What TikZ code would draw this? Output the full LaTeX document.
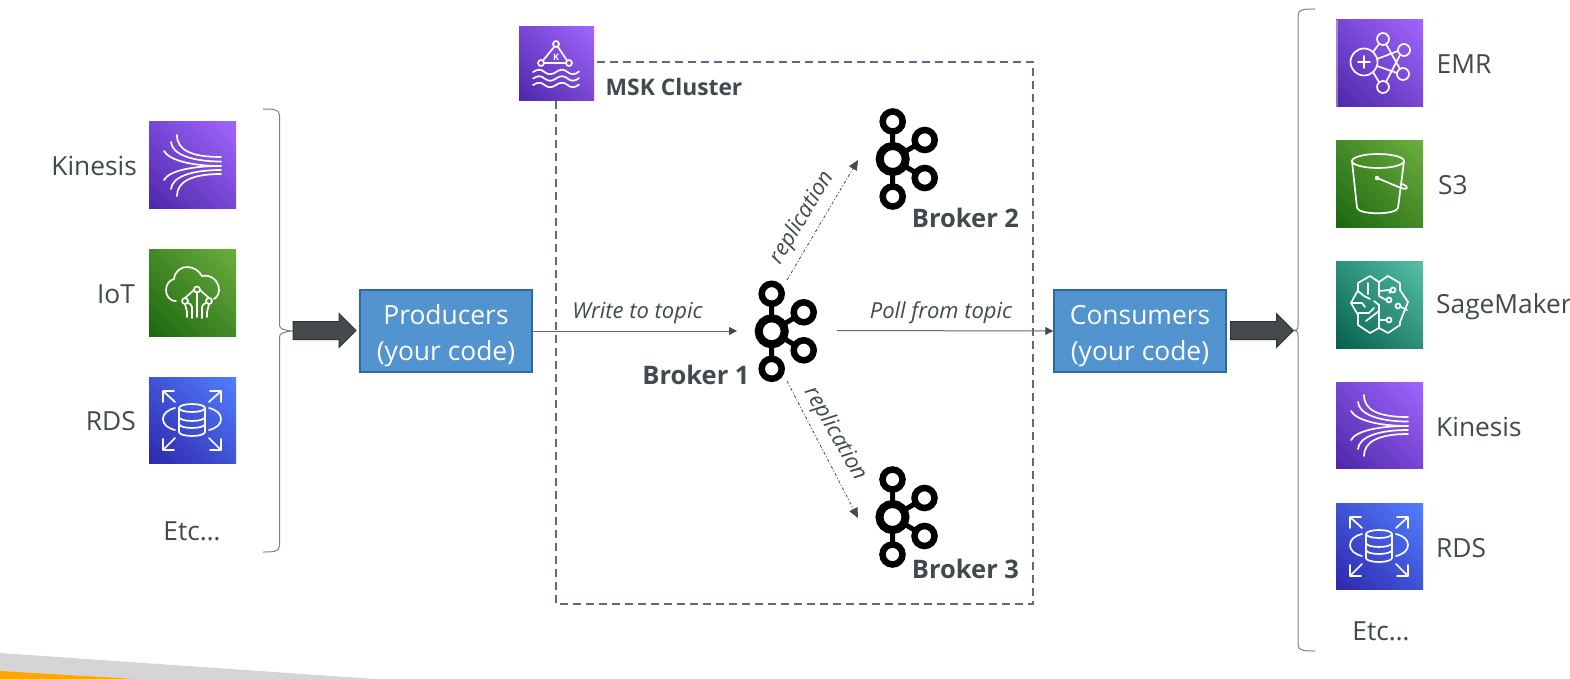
\documentclass[tikz,border=0pt]{standalone}
\usepackage{fontspec}
\setmainfont{Open Sans}
\usetikzlibrary{arrows.meta,shapes.arrows,shadings}
\definecolor{purpD}{HTML}{4D27A8}\definecolor{purpL}{HTML}{A166FF}
\definecolor{greenD}{HTML}{1B660F}\definecolor{greenL}{HTML}{6CAE3E}
\definecolor{blueD}{HTML}{2E27AD}\definecolor{blueL}{HTML}{527FFF}
\definecolor{tealD}{HTML}{055F4E}\definecolor{tealL}{HTML}{56C0A7}
\definecolor{txt}{HTML}{414A4C}
\definecolor{boxfill}{HTML}{5194D0}\definecolor{boxline}{HTML}{2F6A9F}
\definecolor{dashc}{HTML}{5A6B86}
\definecolor{arrowc}{HTML}{444B4C}\definecolor{arrowl}{HTML}{2E3435}
\newcommand{\iconbg}[4]{\shade[lower left=#1,upper right=#2,upper left=#1!50!#2,lower right=#1!50!#2] (0,0) rectangle (#3,#4);}
\newcommand{\sz}[1]{\fontsize{#1}{#1}\selectfont}
\tikzset{
 ic/.style={draw=white,line width=1.7pt,line cap=round,line join=round},
 lab/.style={text=txt,font=\sz{26.3}},
 boldlab/.style={text=txt,font=\sz{25.5}\bfseries},
 ital/.style={text=txt,font=\sz{22}\itshape},
 codebox/.style={draw=boxline,line width=1.5pt,fill=boxfill,text=white,minimum width=172pt,minimum height=82pt,align=center,inner sep=0pt,font=\fontsize{26.4}{36}\selectfont},
 flow/.style={draw=gray!80!black,line width=1pt,-{Triangle[length=8pt,width=8pt,color=arrowc]}},
 repl/.style={draw=arrowc,line width=.8pt,dash pattern=on 3pt off 2pt on 1pt off 2pt,-{Triangle[length=10pt,width=9pt,color=arrowc,sep=0pt]}},
 bigarrow/.style={single arrow,draw=arrowl,fill=arrowc,line width=1pt,minimum height=63pt,inner xsep=0pt,inner ysep=8.5pt,single arrow head extend=8pt,single arrow tip angle=90},
 brace/.style={draw=gray,line width=1pt},
 kinesisicon/.pic={
  \iconbg{purpD}{purpL}{87}{86}
  \draw[ic] (28,13) .. controls (28,28) and (42,35) .. (72,35);
  \draw[ic] (22,20) .. controls (23,32) and (42,39.5) .. (72,39.5);
  \draw[ic] (15,29) .. controls (20,38) and (42,44) .. (72,44);
  \draw[ic] (15,58) .. controls (20,49) and (42,44) .. (72,44);
  \draw[ic] (22,67) .. controls (23,55) and (42,48) .. (72,48);
  \draw[ic] (28,74) .. controls (28,60) and (42,52) .. (72,52);
 },
 rdsicon/.pic={
  \iconbg{blueD}{blueL}{87}{86}
  \draw[ic] (30,31) arc[x radius=13,y radius=4,start angle=180,end angle=-180];
  \draw[ic] (30,31) -- (30,55) arc[x radius=13,y radius=-4,start angle=180,end angle=360] -- (56,31);
  \draw[ic] (30,40) arc[x radius=13,y radius=-4,start angle=180,end angle=360];
  \draw[ic] (30,47) arc[x radius=13,y radius=-4,start angle=180,end angle=360];
  \draw[ic] (26,31) .. controls (18,33) and (14,37) .. (14,42) .. controls (14,47) and (18,51) .. (26,53);
  \draw[ic] (60,31) .. controls (68,33) and (72,37) .. (72,42) .. controls (72,47) and (68,51) .. (60,53);
  \draw[ic] (26,25) -- (14,14) (14,25) -- (14,14) -- (25,14);
  \draw[ic] (60,25) -- (72,14) (72,25) -- (72,14) -- (61,14);
  \draw[ic] (26,61) -- (14,73) (14,62) -- (14,73) -- (25,73);
  \draw[ic] (60,61) -- (72,73) (72,62) -- (72,73) -- (61,73);
 },
 ioticon/.pic={
  \iconbg{greenD}{greenL}{87}{87}
  \draw[ic] (27,52) .. controls (20,52) and (17,46) .. (17,41) .. controls (17,35) and (21,31) .. (25,30) .. controls (26,22) and (32,18) .. (38,18) .. controls (45,18) and (50,22) .. (53,27) .. controls (62,25) and (70,32) .. (70,41) .. controls (70,45) and (68,48) .. (65,50);
  \draw[ic] (48,40.5) circle[radius=3pt] (36,52) circle[radius=3pt] (60,52) circle[radius=3pt];
  \draw[ic] (48,44) -- (48,68) (43,69) -- (43,58) .. controls (43,55) and (40,55) .. (39,54);
  \draw[ic] (53,69) -- (53,58) .. controls (53,55) and (56,55) .. (57,54);
  \draw[ic] (38,68) -- (38,63) -- (36,55) (58,68) -- (58,63) -- (60,55);
  \draw[ic] (36,49) -- (45,41) (60,49) -- (51,41);
 },
 emricon/.pic={
  \iconbg{purpD}{purpL}{87}{87}
  \fill[white,opacity=.35] (0,0) rectangle (2,87);
  \draw[ic] (28,42) circle[radius=13.5pt];
  \draw[ic] (22,42) -- (34,42) (28,36) -- (28,48);
  \draw[ic] (47,19) circle[radius=6pt] (68,30) circle[radius=6pt] (67,54) circle[radius=6pt] (47,67) circle[radius=6pt];
  \draw[ic] (37,32) -- (43,24) (41,39) -- (62,31) (41,46) -- (61,53) (37,52) -- (43,62) (50,24) -- (64,49) (50,62) -- (64,35);
 },
 sthreeicon/.pic={
  \iconbg{greenD}{greenL}{87}{86}
  \draw[ic] (42,20) ellipse[x radius=26,y radius=7];
  \draw[ic] (16,20) -- (21,67) .. controls (23,74) and (60,74) .. (62,67) -- (68,20);
  \draw[ic] (41,37) -- (65,47) .. controls (71,49) and (72,47) .. (70,45) .. controls (68,43) and (66,43) .. (64.5,43);
  \fill[white] (41,37) circle[radius=2.2pt];
 },
 sageicon/.pic={
  \iconbg{tealD}{tealL}{87}{87}
  \draw[ic] (34,15) -- (43,21) -- (52,15) -- (64,22) -- (64,29) -- (72,41) -- (64,61) -- (64,64) -- (52,72) -- (43,67) -- (34,72) -- (22,64) -- (22,54) -- (15,42) -- (22,29) -- (22,22) -- cycle;
  \draw[ic] (43,21) -- (43,34) (43,48) -- (43,67);
  \draw[ic] (43,30) -- (53,29) (53,29) -- (54,32);
  \draw[ic] (57,29) circle[radius=2.5pt] (53,39) circle[radius=2.5pt] (62,45) circle[radius=2.5pt] (53,59) circle[radius=2.5pt];
  \draw[ic] (43,35) -- (50,39) (65,46) -- (71,49) (43,59) -- (50,59);
  \draw[ic] (32,22) -- (32,33) (22,30) -- (28,35) -- (34,38);
  \draw[ic] (15,42) -- (26,42) -- (29,46) (22,52) -- (33,52) -- (38,47);
  \draw[ic] (38,40) -- (43,44) -- (43,50) -- (30,60);
 },
 mskicon/.pic={
  \iconbg{purpD}{purpL}{75}{74}
  \draw[ic] (37,17) circle[radius=3pt] (22,36) circle[radius=3pt] (50,36) circle[radius=3pt];
  \draw[ic] (35,20) -- (24,33.5) (39,20) -- (48,33.5) (25,36) -- (47,36);
  \node[text=white,font=\sz{9}\bfseries,inner sep=0pt] at (37,30.5) {K};
  \foreach \yy in {45,51.5,58}{\draw[ic] (14,\yy) .. controls (19,\yy-3) and (22,\yy-3) .. (25.5,\yy) .. controls (29,\yy+3) and (33,\yy+3) .. (37,\yy) .. controls (41,\yy-3) and (45,\yy-3) .. (48.5,\yy) .. controls (52,\yy+3) and (56,\yy+3) .. (60,\yy-.5);}
 },
 kafkaicon/.pic={
  \draw[black,line width=5pt] (0,0) -- (0,-37.5) (0,0) -- (0,37.5) (0,0) -- (32,-19) (0,0) -- (32,19);
  \draw[black,fill=white,line width=8pt] (0,0) circle[radius=13pt];
  \foreach \a/\b in {0/-37.5,0/37.5,32/-19,32/19}{\draw[black,fill=white,line width=6.5pt] (\a,\b) circle[radius=10pt];}
 },
}
\begin{document}
\begin{tikzpicture}[x=1pt,y=-1pt]
\useasboundingbox (0,0) rectangle (1570,679);
\fill[white] (0,0) rectangle (1570,679);
\fill[gray!33] (0,653) -- (375,679) -- (0,679) -- cycle;
\fill[orange!70!yellow] (0,671) -- (135,679) -- (0,679) -- cycle;

% cluster
\draw[dashc,line width=1.6pt,dash pattern=on 8pt off 5pt] (555.7,62.3) rectangle (1033,604);
\pic (msk) at (519,27) {mskicon};
\node[boldlab,font=\sz{22.8}\bfseries,anchor=west,inner sep=0pt] (msklab) at (605.5,86.5) {MSK Cluster};

% left sources
\pic (kin1) at (149,122) {kinesisicon};
\pic (iot1) at (149,249) {ioticon};
\pic (rds1) at (149,377) {rdsicon};
\node[lab,anchor=east,inner sep=0pt] (lkin) at (137,166) {Kinesis};
\node[lab,anchor=east,inner sep=0pt] (liot) at (135,294) {IoT};
\node[lab,anchor=east,inner sep=0pt] (lrds) at (136,421.5) {RDS};
\node[lab,inner sep=0pt] (letc) at (192,531) {Etc…};

% braces
\draw[brace] (263,109) .. controls (272,109) and (279.5,109) .. (279.5,115) -- (279.5,325) .. controls (279.5,329) and (284,330) .. (292,331) .. controls (284,332) and (279.5,333) .. (279.5,337) -- (279.5,546) .. controls (279.5,552) and (272,552) .. (263,552);
\draw[brace] (1315,9) .. controls (1305,9) and (1298,9) .. (1298,15) -- (1298,325) .. controls (1298,329) and (1298,330) .. (1293,330.5) .. controls (1298,331) and (1298,332) .. (1298,336) -- (1298,645) .. controls (1298,651) and (1305,651) .. (1315,651);

% boxes
\node[codebox] (prod) at (446,331) {\rule{0pt}{29pt}Producers\\(your code)};
\node[codebox] (cons) at (1140,331) {\rule{0pt}{29pt}Consumers\\(your code)};
\node[bigarrow] (arrL) at (320,330.5) {};
\node[bigarrow] (arrR) at (1257.5,330.5) {};

% brokers
\pic (b1) at (771.7,331.3) {kafkaicon};
\pic (b2) at (892.7,159) {kafkaicon};
\pic (b3) at (892.5,517) {kafkaicon};
\node[boldlab,inner sep=0pt] (l1) at (696,374.5) {Broker 1};
\node[boldlab,inner sep=0pt] (l2) at (965.5,217.5) {Broker 2};
\node[boldlab,inner sep=0pt] (l3) at (965.5,568.5) {Broker 3};
\coordinate (b1w) at (737,331);
\coordinate (b1e) at (837,330.5);
\coordinate (b1n) at (787,280);
\coordinate (b1s) at (787,381);
\coordinate (b2in) at (858,160);
\coordinate (b3in) at (858,518);
\draw[flow] (prod.east) -- (b1w);
\draw[flow] (b1e) -- (cons.west);
\draw[repl] (b1n) -- (b2in);
\draw[repl] (b1s) -- (b3in);
\node[ital,inner sep=0pt] (tw) at (637.5,313) {Write to topic};
\node[ital,inner sep=0pt] (tp) at (941,313) {Poll from topic};
\node[ital,inner sep=0pt,rotate=59] (tr1) at (802,218) {replication};
\node[ital,inner sep=0pt,rotate=-60] (tr2) at (835,434) {replication};

% right sinks
\pic (emr) at (1336,20) {emricon};
\pic (s3) at (1336,141) {sthreeicon};
\pic (sm) at (1336,261) {sageicon};
\pic (kin2) at (1336,382) {kinesisicon};
\pic (rds2) at (1336,503) {rdsicon};
\node[lab,anchor=west,inner sep=0pt] (remr) at (1436.5,64.5) {EMR};
\node[lab,anchor=west,inner sep=0pt] (rs3) at (1438,185.5) {S3};
\node[lab,anchor=west,inner sep=0pt] (rsm) at (1436,307) {SageMaker};
\node[lab,anchor=west,inner sep=0pt] (rkin) at (1436,427) {Kinesis};
\node[lab,anchor=west,inner sep=0pt] (rrds) at (1436,548) {RDS};
\node[lab,inner sep=0pt] (retc) at (1381,631) {Etc…};
\end{tikzpicture}
\end{document}
